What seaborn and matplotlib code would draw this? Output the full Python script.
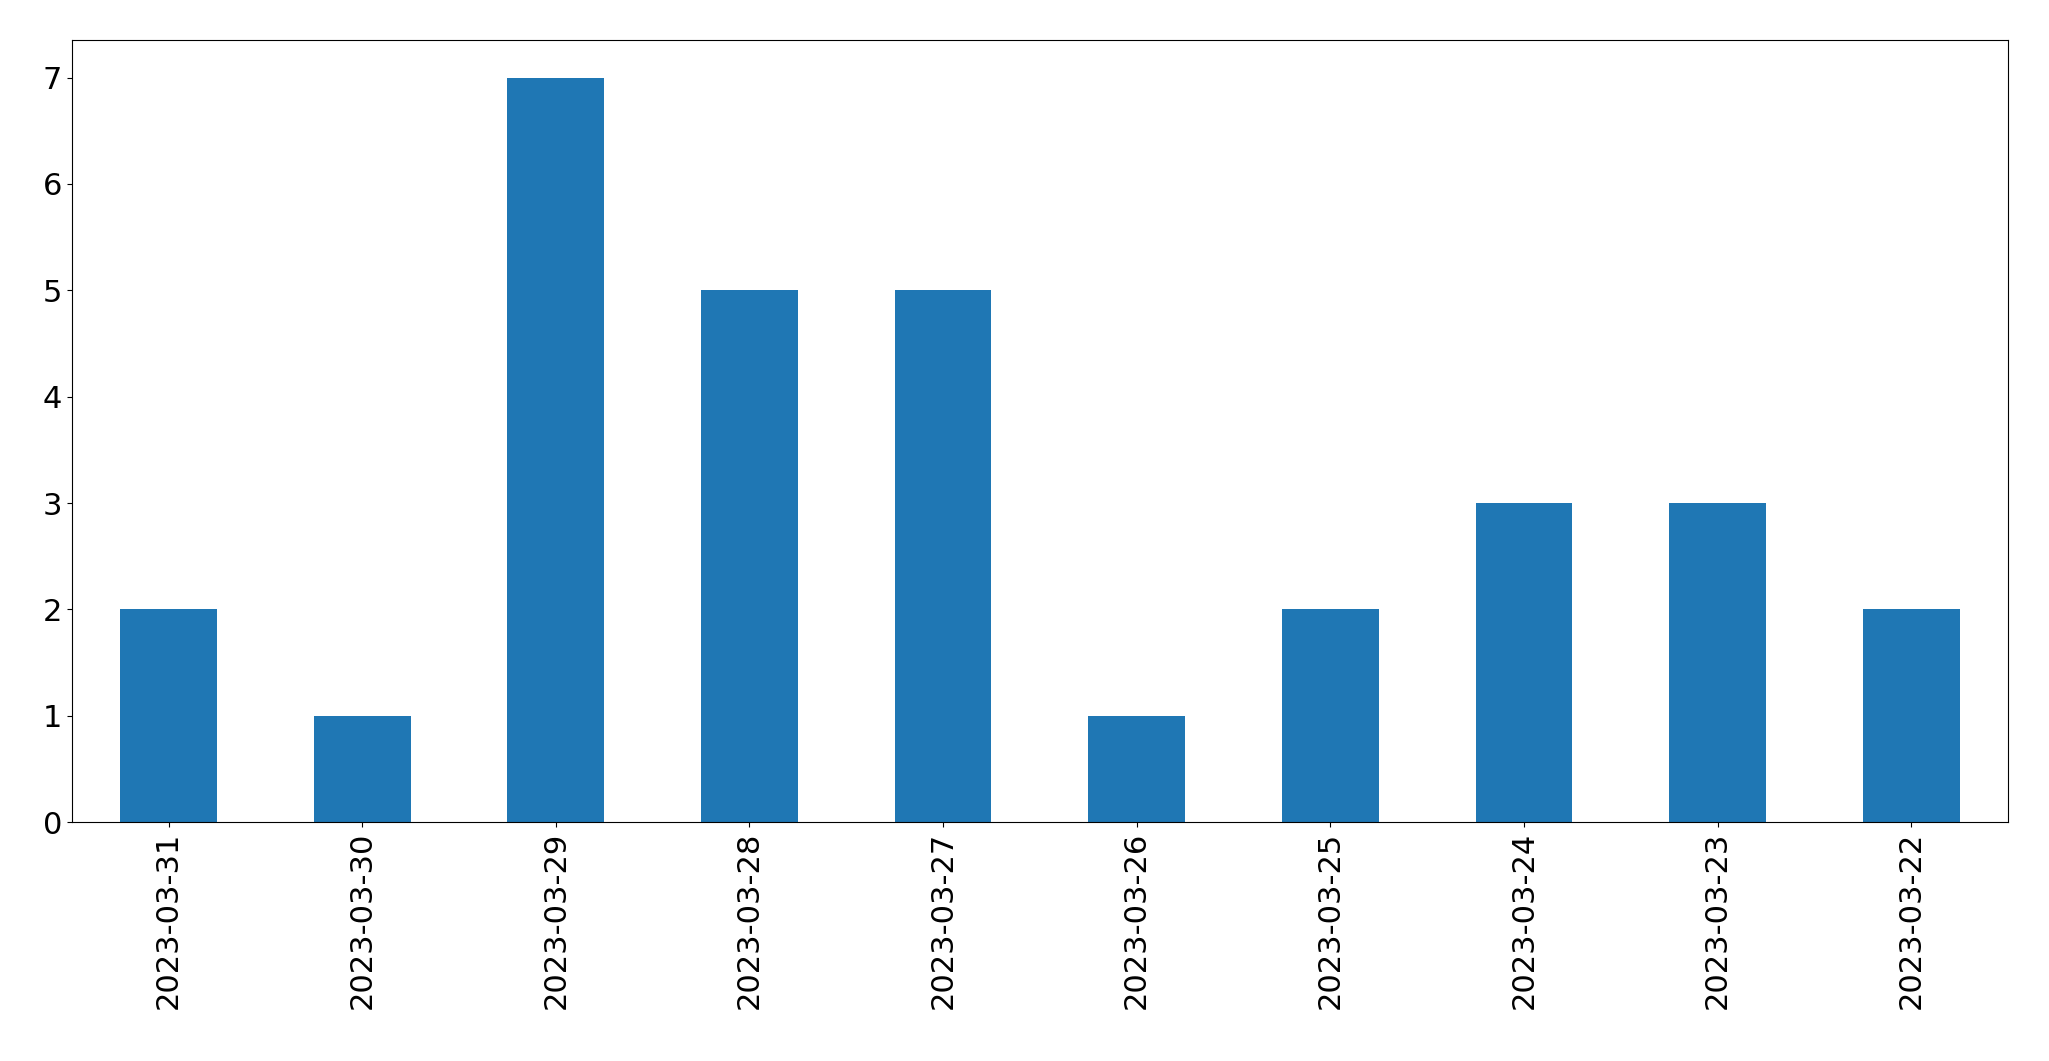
import matplotlib
matplotlib.use("Agg")
import matplotlib.pyplot as plt
import seaborn as sns
import pandas as pd

dates = ['2023-03-31', '2023-03-30', '2023-03-29', '2023-03-28', '2023-03-27',
         '2023-03-26', '2023-03-25', '2023-03-24', '2023-03-23', '2023-03-22']
counts = [2, 1, 7, 5, 5, 1, 2, 3, 3, 2]

df = pd.DataFrame({'date': dates, 'count': counts})

fig, ax = plt.subplots(figsize=(20.49, 10.61), dpi=100)
sns.barplot(data=df, x='date', y='count', order=dates, color='#1f77b4',
            saturation=1, width=0.5, ax=ax)
ax.set_xlabel('')
ax.set_ylabel('')
ax.set_xlim(-0.5, len(dates) - 0.5)
ax.set_yticks(range(0, 8))
ax.tick_params(axis='both', labelsize=22)
ax.tick_params(axis='x', labelrotation=90)
for s in ax.spines.values():
    s.set_visible(True)
    s.set_color('black')

fig.subplots_adjust(left=0.035, right=0.98, top=0.962, bottom=0.225)
fig.savefig('out.png')
